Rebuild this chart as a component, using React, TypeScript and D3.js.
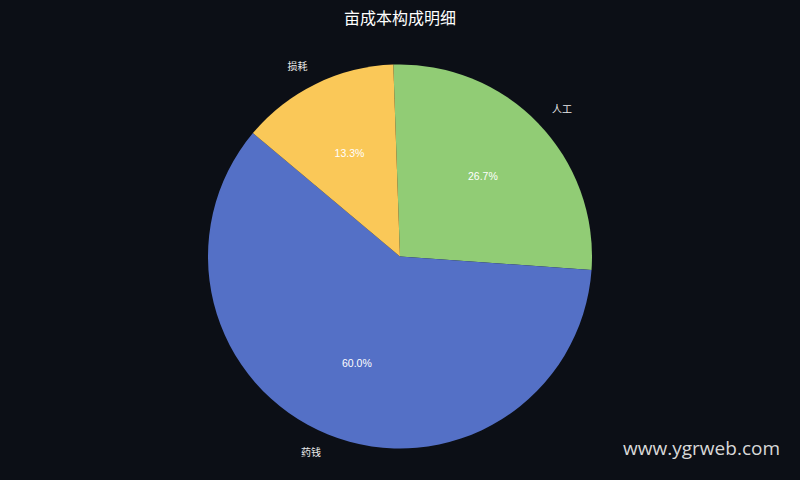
import React from "react";
import * as d3 from "d3";

const categories = ["人工", "药钱", "损耗"];
const values = [20, 45, 10];
const colors = ["#91cc75", "#5470c6", "#fac858"];
const title = "亩成本构成明细";
const watermark = "www.ygrweb.com";

const W = 800;
const H = 480;

export default function App() {
  const cx = 400;
  const cy = 256.5;
  const r = 192;
  const start = (-2 * Math.PI) / 180;
  const pie = d3
    .pie<number>()
    .sort(null)
    .startAngle(start)
    .endAngle(start + 2 * Math.PI)
    .value((d) => d);
  const arcs = pie(values);
  const arcGen = d3.arc<d3.PieArcDatum<number>>().innerRadius(0).outerRadius(r);
  const total = d3.sum(values);
  const fmt = d3.format(".1f");

  return (
    <svg
      width={W}
      height={H}
      style={{ position: "absolute", left: 0, top: 0, display: "block" }}
    >
      <rect width={W} height={H} fill="#0c0f16" />
      <text
        x={400}
        y={24}
        textAnchor="middle"
        fill="#ffffff"
        fontSize={16}
        fontFamily="'Noto Sans CJK SC', 'DejaVu Sans', sans-serif"
      >
        {title}
      </text>
      <g transform={`translate(${cx},${cy})`}>
        {arcs.map((a, i) => (
          <path key={i} d={arcGen(a) || ""} fill={colors[i]} />
        ))}
        {arcs.map((a, i) => {
          const mid = (a.startAngle + a.endAngle) / 2;
          const lx = 1.1 * r * Math.sin(mid);
          const ly = -1.1 * r * Math.cos(mid);
          const px = 0.6 * r * Math.sin(mid);
          const py = -0.6 * r * Math.cos(mid);
          return (
            <g key={"t" + i}>
              <text
                x={lx}
                y={ly}
                dy="0.35em"
                textAnchor={lx >= 0 ? "start" : "end"}
                fill="#e8e8e8"
                fontSize={10}
                fontFamily="'Noto Sans CJK SC', 'Liberation Sans', sans-serif"
              >
                {categories[i]}
              </text>
              <text
                x={px}
                y={py}
                dy="0.35em"
                textAnchor="middle"
                fill="#ffffff"
                fontSize={10.5}
                fontFamily="'Liberation Sans', Arial, sans-serif"
              >
                {fmt((values[i] / total) * 100) + "%"}
              </text>
            </g>
          );
        })}
      </g>
      <text
        x={780}
        y={455}
        textAnchor="end"
        fill="#d8d8d8"
        fontSize={19}
        fontFamily="'Open Sans', 'Noto Sans', sans-serif"
      >
        {watermark}
      </text>
    </svg>
  );
}
